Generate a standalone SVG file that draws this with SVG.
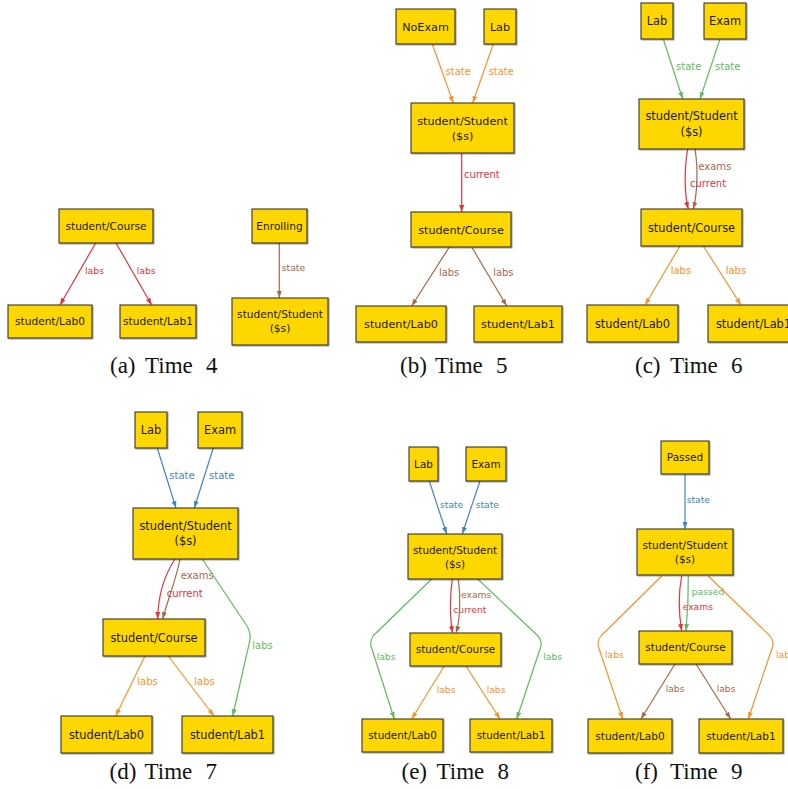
<svg xmlns="http://www.w3.org/2000/svg" width="788" height="789" viewBox="0 0 788 789">
<style>
.n rect{fill:#ffd700;stroke:#333;stroke-width:1.1;filter:url(#sh)}
.n text{font-family:"DejaVu Sans",sans-serif;fill:#1a1a1a;text-anchor:middle}
.e path{fill:none;stroke-width:1.2}
.e text{font-family:"DejaVu Sans",sans-serif}
.red{stroke:#e5323b;marker-end:url(#mr)}
.org{stroke:#f7932a;marker-end:url(#mo)}
.brn{stroke:#a9674a;marker-end:url(#mb)}
.grn{stroke:#62ba62;marker-end:url(#mg)}
.blu{stroke:#3f86c6;marker-end:url(#mu)}
text.red,text.org,text.brn,text.grn,text.blu{stroke:none;marker-end:none}
text.red{fill:#e5323b}text.org{fill:#f7932a}text.brn{fill:#a9674a}text.grn{fill:#62ba62}text.blu{fill:#3f86c6}
.cap{font-family:"Liberation Serif",serif;font-size:23px;fill:#111}
</style>
<defs>
<filter id="sh" x="-10%" y="-10%" width="130%" height="140%"><feDropShadow dx="1" dy="1" stdDeviation="0.7" flood-color="#000" flood-opacity="0.35"/></filter>
<marker id="mr" markerUnits="userSpaceOnUse" markerWidth="7" markerHeight="5" refX="7" refY="2.5" orient="auto"><path d="M0,0L7,2.5L0,5Z" fill="#e5323b"/></marker>
<marker id="mo" markerUnits="userSpaceOnUse" markerWidth="7" markerHeight="5" refX="7" refY="2.5" orient="auto"><path d="M0,0L7,2.5L0,5Z" fill="#f7932a"/></marker>
<marker id="mb" markerUnits="userSpaceOnUse" markerWidth="7" markerHeight="5" refX="7" refY="2.5" orient="auto"><path d="M0,0L7,2.5L0,5Z" fill="#a9674a"/></marker>
<marker id="mg" markerUnits="userSpaceOnUse" markerWidth="7" markerHeight="5" refX="7" refY="2.5" orient="auto"><path d="M0,0L7,2.5L0,5Z" fill="#62ba62"/></marker>
<marker id="mu" markerUnits="userSpaceOnUse" markerWidth="7" markerHeight="5" refX="7" refY="2.5" orient="auto"><path d="M0,0L7,2.5L0,5Z" fill="#3f86c6"/></marker>
</defs>
<rect width="788" height="789" fill="#fff"/>

<g id="connectors" class="e">
<!-- (a) -->
<g font-size="9.3">
<path class="red" d="M95.7,243L60,305"/><text class="red" x="85" y="274">labs</text>
<path class="red" d="M116,243L151.7,305"/><text class="red" x="136.7" y="274">labs</text>
<path class="brn" d="M279.3,243L279.3,298"/><text class="brn" x="281.7" y="271">state</text>
</g>
<!-- (b) -->
<g font-size="9.9">
<path class="org" d="M432.3,44L453.3,103"/><text class="org" x="445.7" y="75">state</text>
<path class="org" d="M493.3,44L472.7,103"/><text class="org" x="488.7" y="75">state</text>
<path class="red" d="M461.7,153L461.7,212"/><text class="red" x="464" y="178.3">current</text>
<path class="brn" d="M449.3,247L411.7,306"/><text class="brn" x="439" y="275.6">labs</text>
<path class="brn" d="M471.7,247L506.7,306"/><text class="brn" x="493.3" y="275.6">labs</text>
</g>
<!-- (c) -->
<g font-size="10">
<path class="grn" d="M663.3,39L682.7,99"/><text class="grn" x="676" y="70">state</text>
<path class="grn" d="M720,39L700,99"/><text class="grn" x="715" y="70">state</text>
<path class="red" d="M687.7,149C684,170 684.5,195 688.3,209"/><text class="red" x="690" y="186.6">current</text>
<path class="brn" d="M695,149C698.5,170 697,195 693.3,209"/><text class="brn" x="698.3" y="170">exams</text>
<path class="org" d="M680,246L645,305"/><text class="org" x="670.7" y="274.3">labs</text>
<path class="org" d="M703.3,246L741,305"/><text class="org" x="725.7" y="274.3">labs</text>
</g>
<!-- (d) -->
<g font-size="10">
<path class="blu" d="M157.3,448L176,508"/><text class="blu" x="169.3" y="479.3">state</text>
<path class="blu" d="M213.3,448L194.3,508"/><text class="blu" x="209" y="479.3">state</text>
<path class="red" d="M175,559C164,576 158,598 157.7,619"/><text class="red" x="166.7" y="596.6">current</text>
<path class="brn" d="M180,559C176,580 167,602 162.7,619"/><text class="brn" x="180.7" y="579.3">exams</text>
<path class="grn" d="M202.3,559L247,626Q251,633 250,640L232.7,716"/><text class="grn" x="252.3" y="649">labs</text>
<path class="org" d="M145,656L115.7,716"/><text class="org" x="137.3" y="685">labs</text>
<path class="org" d="M168.3,656L214,716"/><text class="org" x="194.3" y="685">labs</text>
</g>
<!-- (e) -->
<g font-size="9.2">
<path class="blu" d="M429.3,481L446.7,534"/><text class="blu" x="440" y="507.5">state</text>
<path class="blu" d="M480,481L462.3,534"/><text class="blu" x="475.7" y="507.5">state</text>
<path class="red" d="M452.3,579C449.5,598 450,620 452.7,633"/><text class="red" x="453.3" y="613.2">current</text>
<path class="brn" d="M458.3,579C461,598 460,620 456,633"/><text class="brn" x="461" y="598.2">exams</text>
<path class="grn" d="M431.7,579L374,635Q370,640 371,646L394.3,719"/><text class="grn" x="376.7" y="660">labs</text>
<path class="grn" d="M477.7,579L537,635Q542,640 541,646L516.7,719"/><text class="grn" x="543.3" y="660">labs</text>
<path class="org" d="M444.3,666L411.7,719"/><text class="org" x="436.7" y="692.5">labs</text>
<path class="org" d="M466,666L500,719"/><text class="org" x="486.7" y="692.5">labs</text>
</g>
<!-- (f) -->
<g font-size="9.2">
<path class="blu" d="M685,474L685,529"/><text class="blu" x="686.7" y="502.5">state</text>
<path class="red" d="M681.7,576C678,595 679,615 681.7,631"/><text class="red" x="682.7" y="610">exams</text>
<path class="grn" d="M688.3,576C688.5,595 687.5,615 686,631"/><text class="grn" x="691.7" y="595">passed</text>
<path class="org" d="M661.7,576L601,636Q597,641 598.5,647L622.7,719"/><text class="org" x="605" y="657.5">labs</text>
<path class="org" d="M708.3,576L770,636Q774,641 772.5,647L748.3,719"/><text class="org" x="776" y="657.5">labs</text>
<path class="brn" d="M675,664L641,719"/><text class="brn" x="665.7" y="691.5">labs</text>
<path class="brn" d="M696,664L730.7,719"/><text class="brn" x="716.7" y="691.5">labs</text>
</g>
</g>

<!-- (a) nodes -->
<g font-size="10.6">
<g id="a-course" class="n"><rect x="59" y="209" width="94" height="34"/><text x="106" y="229.8">student/Course</text></g>
<g id="a-lab0" class="n"><rect x="8" y="305" width="84" height="33"/><text x="50" y="325.3">student/Lab0</text></g>
<g id="a-lab1" class="n"><rect x="120" y="305" width="76" height="33"/><text x="158" y="325.3">student/Lab1</text></g>
<g id="a-enrolling" class="n"><rect x="252" y="209" width="55" height="34"/><text x="279.5" y="229.8">Enrolling</text></g>
<g id="a-student" class="n"><rect x="232" y="298" width="96" height="47"/><text x="280" y="318.3">student/Student</text><text x="280" y="332.3">($s)</text></g>
</g>
<!-- (b) nodes -->
<g font-size="11.2">
<g id="b-noexam" class="n"><rect x="396" y="9" width="59" height="35"/><text x="425.5" y="30.5">NoExam</text></g>
<g id="b-lab" class="n"><rect x="484" y="9" width="32" height="35"/><text x="500" y="30.5">Lab</text></g>
<g id="b-student" class="n"><rect x="411" y="103" width="103" height="50"/><text x="462.5" y="124.5">student/Student</text><text x="462.5" y="139.8">($s)</text></g>
<g id="b-course" class="n"><rect x="411" y="212" width="100" height="35"/><text x="461" y="233.5">student/Course</text></g>
<g id="b-lab0" class="n"><rect x="356" y="306" width="90" height="36"/><text x="401" y="328">student/Lab0</text></g>
<g id="b-lab1" class="n"><rect x="474" y="306" width="88" height="36"/><text x="518" y="328">student/Lab1</text></g>
</g>
<!-- (c) nodes -->
<g font-size="11.4">
<g id="c-lab" class="n"><rect x="641" y="3" width="32" height="36"/><text x="657" y="25.1">Lab</text></g>
<g id="c-exam" class="n"><rect x="704" y="3" width="42" height="36"/><text x="725" y="25.1">Exam</text></g>
<g id="c-student" class="n"><rect x="639" y="99" width="105" height="50"/><text x="691.5" y="120.3">student/Student</text><text x="691.5" y="135.8">($s)</text></g>
<g id="c-course" class="n"><rect x="641" y="209" width="101" height="37"/><text x="691.5" y="231.6">student/Course</text></g>
<g id="c-lab0" class="n"><rect x="587" y="305" width="91" height="37"/><text x="632.5" y="327.6">student/Lab0</text></g>
<g id="c-lab1" class="n"><rect x="708" y="305" width="91" height="37"/><text x="753.5" y="327.6">student/Lab1</text></g>
</g>
<!-- (d) nodes -->
<g font-size="11.4">
<g id="d-lab" class="n"><rect x="135" y="412" width="32" height="36"/><text x="151" y="434.1">Lab</text></g>
<g id="d-exam" class="n"><rect x="198" y="412" width="44" height="36"/><text x="220" y="434.1">Exam</text></g>
<g id="d-student" class="n"><rect x="133" y="508" width="105" height="51"/><text x="185.5" y="530">student/Student</text><text x="185.5" y="545.3">($s)</text></g>
<g id="d-course" class="n"><rect x="103" y="619" width="102" height="37"/><text x="154" y="641.6">student/Course</text></g>
<g id="d-lab0" class="n"><rect x="61" y="716" width="91" height="37"/><text x="106.5" y="738.6">student/Lab0</text></g>
<g id="d-lab1" class="n"><rect x="182" y="716" width="91" height="37"/><text x="227.5" y="738.6">student/Lab1</text></g>
</g>
<!-- (e) nodes -->
<g font-size="10.4">
<g id="e-lab" class="n"><rect x="409" y="447" width="29" height="34"/><text x="423.5" y="467.8">Lab</text></g>
<g id="e-exam" class="n"><rect x="466" y="447" width="40" height="34"/><text x="486" y="467.8">Exam</text></g>
<g id="e-student" class="n"><rect x="408" y="534" width="94" height="45"/><text x="455" y="553.5">student/Student</text><text x="455" y="567.5">($s)</text></g>
<g id="e-course" class="n"><rect x="410" y="633" width="91" height="33"/><text x="455.5" y="653.3">student/Course</text></g>
<g id="e-lab0" class="n"><rect x="362" y="719" width="81" height="33"/><text x="402.5" y="739.3">student/Lab0</text></g>
<g id="e-lab1" class="n"><rect x="470" y="719" width="82" height="33"/><text x="511" y="739.3">student/Lab1</text></g>
</g>
<!-- (f) nodes -->
<g font-size="10.5">
<g id="f-passed" class="n"><rect x="661" y="441" width="48" height="33"/><text x="685" y="461.3">Passed</text></g>
<g id="f-student" class="n"><rect x="637" y="529" width="96" height="46"/><text x="685" y="549">student/Student</text><text x="685" y="563.2">($s)</text></g>
<g id="f-course" class="n"><rect x="639" y="631" width="93" height="33"/><text x="685.5" y="651.3">student/Course</text></g>
<g id="f-lab0" class="n"><rect x="588" y="719" width="84" height="34"/><text x="630" y="739.8">student/Lab0</text></g>
<g id="f-lab1" class="n"><rect x="699" y="719" width="84" height="34"/><text x="741" y="739.8">student/Lab1</text></g>
</g>

<g id="captions" class="cap">
<text y="373"><tspan x="110">(a)</tspan><tspan x="145">Time</tspan><tspan x="206">4</tspan></text>
<text y="373"><tspan x="400">(b)</tspan><tspan x="435">Time</tspan><tspan x="496">5</tspan></text>
<text y="373"><tspan x="635">(c)</tspan><tspan x="670">Time</tspan><tspan x="731">6</tspan></text>
<text y="779"><tspan x="109.5">(d)</tspan><tspan x="144.5">Time</tspan><tspan x="205.5">7</tspan></text>
<text y="779"><tspan x="401.5">(e)</tspan><tspan x="436.5">Time</tspan><tspan x="497.5">8</tspan></text>
<text y="779"><tspan x="635">(f)</tspan><tspan x="670">Time</tspan><tspan x="731">9</tspan></text>
</g>
</svg>
